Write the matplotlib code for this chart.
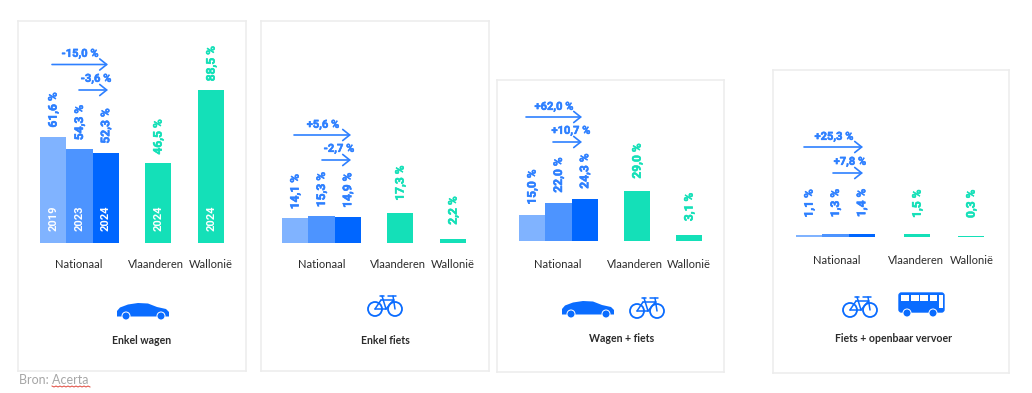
import numpy as np
import matplotlib
matplotlib.use("Agg")
import matplotlib.pyplot as plt
import matplotlib.patheffects as pe
from matplotlib.patches import Polygon, Circle, FancyBboxPatch, Rectangle

regions = ["Nationaal", "Vlaanderen", "Wallonië"]
years = ["2019", "2023", "2024", "2024", "2024"]

wagen = [61.6, 54.3, 52.3, 46.5, 88.5]
fiets = [14.1, 15.3, 14.9, 17.3, 2.2]
wagen_fiets = [15.0, 22.0, 24.3, 29.0, 3.1]
fiets_ov = [1.1, 1.3, 1.4, 1.5, 0.3]

wagen_labels = ["61,6 %", "54,3 %", "52,3 %", "46,5 %", "88,5 %"]
fiets_labels = ["14,1 %", "15,3 %", "14,9 %", "17,3 %", "2,2 %"]
wagen_fiets_labels = ["15,0 %", "22,0 %", "24,3 %", "29,0 %", "3,1 %"]
fiets_ov_labels = ["1,1 %", "1,3 %", "1,4 %", "1,5 %", "0,3 %"]

wagen_change = ["-15,0 %", "-3,6 %"]
fiets_change = ["+5,6 %", "-2,7 %"]
wagen_fiets_change = ["+62,0 %", "+10,7 %"]
fiets_ov_change = ["+25,3 %", "+7,8 %"]

titles = ["Enkel wagen", "Enkel fiets", "Wagen + fiets", "Fiets + openbaar vervoer"]

BLUES = ["#80B3FF", "#4D94FF", "#0066FF"]
TEAL = "#14E0B8"
ARROW = "#2E80FF"
ICON = "#0A6CFF"
TEXT = "#2B2B2B"
CARD = "#EDEDED"
COND = ["Roboto", "DejaVu Sans"]
LABEL = ["Lato", "DejaVu Sans"]

W, H = 1032, 393
PX_PER_UNIT = 1.72
BAR_W = 26.3

fig = plt.figure(figsize=(W / 100, H / 100), dpi=100, facecolor="white")


def box(l, t, r, b):
    return [l / W, 1 - b / H, (r - l) / W, (b - t) / H]


def panel(card, first_bar, gap_bar, base, values, labels, gaps):
    # card and positions are in pixels, bars are in data units
    l, t, r, b = card
    ax = fig.add_axes(box(l, t, r, b))
    ax.set_xlim((l - first_bar) / BAR_W - 0.5, (r - first_bar) / BAR_W - 0.5)
    ax.set_ylim(-(b - base) / PX_PER_UNIT, (base - t) / PX_PER_UNIT)
    ax.set_xticks([])
    ax.set_yticks([])
    for s in ax.spines.values():
        s.set_color(CARD)
        s.set_linewidth(1.2)
    x = np.array([0, 1, 2, 4, 6]) * 1.0
    x[3] = (gap_bar[0] - first_bar) / BAR_W
    x[4] = (gap_bar[1] - first_bar) / BAR_W
    cols = BLUES + [TEAL, TEAL]
    ax.bar(x, values, width=1.0, color=cols, linewidth=0)
    for i in range(5):
        c = ARROW if i < 3 else TEAL
        t_ = ax.annotate(labels[i], (x[i], values[i]), xytext=(0, gaps[i] * 0.72),
                         textcoords="offset points", rotation=90, ha="center", va="bottom",
                         color=c, fontsize=8.6, fontweight="bold", family=COND)
        t_.set_path_effects([pe.withStroke(linewidth=0.4, foreground=c)])
    return ax, x


ax1, x1 = panel((17.5, 21, 246, 371), 40, (145, 198), 242.5, wagen, wagen_labels, [9, 9, 9, 8, 9])
ax2, x2 = panel((261, 21, 489, 371), 282, (387, 440), 242.5, fiets, fiets_labels, [9, 9, 9, 12, 14])
ax3, x3 = panel((497, 80, 724, 372), 519, (624, 676), 240.5, wagen_fiets, wagen_fiets_labels, [10, 10, 10, 12, 14])
ax4, x4 = panel((773, 70, 1009, 373), 796, (904, 958), 236.5, fiets_ov, fiets_ov_labels, [17, 17, 17, 16, 18])

# year labels only in the first panel
for i in range(5):
    ax1.text(x1[i], 14, years[i], rotation=90, ha="center", va="center", color="white",
             fontsize=8, fontweight="bold", family=COND)

# overlay in pixels for the arrows, texts and icons
ov = fig.add_axes([0, 0, 1, 1], zorder=5)
ov.set_xlim(0, W)
ov.set_ylim(H, 0)
ov.axis("off")
ov.patch.set_alpha(0)


def arrow(x0, x1, y):
    ov.annotate("", xy=(x1, y), xytext=(x0, y),
                arrowprops=dict(arrowstyle="->,head_length=0.5,head_width=0.4", color=ARROW,
                                lw=1.2, shrinkA=0, shrinkB=0))


def change(txt, cx, cy, x0, x1, y):
    t_ = ov.text(cx, cy, txt, ha="center", va="center", color=ARROW, fontsize=8,
                 fontweight="bold", family=COND)
    t_.set_path_effects([pe.withStroke(linewidth=0.4, foreground=ARROW)])
    arrow(x0, x1, y)


change(wagen_change[0], 80, 54, 52, 108, 64.5)
change(wagen_change[1], 96, 79, 79, 108, 90)
change(fiets_change[0], 323, 125, 294, 351, 135)
change(fiets_change[1], 339, 149, 322, 351, 160)
change(wagen_fiets_change[0], 554, 107, 526, 582, 117)
change(wagen_fiets_change[1], 571, 131, 553, 582, 142)
change(fiets_ov_change[0], 834, 137, 804, 863, 147)
change(fiets_ov_change[1], 850, 162, 833, 863, 173)

region_x = [(79, 156, 211), (322, 398, 453), (558, 635, 689), (837, 916, 972)]
region_y = [265, 265, 264, 261]
title_x = [142, 385, 622, 894]
title_y = [341, 341, 339, 339]
for k in range(4):
    for j in range(3):
        ov.text(region_x[k][j], region_y[k], regions[j], ha="center", va="center",
                color=TEXT, fontsize=8, family=LABEL)
    ov.text(title_x[k], title_y[k], titles[k], ha="center", va="center",
            color=TEXT, fontsize=7.6, fontweight="bold", family=LABEL)


def wheel(cx, cy, r=3.5):
    ov.add_patch(Circle((cx, cy), r + 1.0, fc="white", ec="none"))
    ov.add_patch(Circle((cx, cy), r, fc=ICON, ec="none"))


def car(x, y):
    pts = [(0, 8), (3, 4.5), (11, 1.5), (21, 0), (31, 0.5), (40, 4), (49, 6), (52, 9), (52, 13.5), (0, 13.5)]
    ov.add_patch(Polygon([(x + a, y + b) for a, b in pts], closed=True, fc=ICON, ec="none"))
    wheel(x + 9, y + 13)
    wheel(x + 44, y + 13)


def bike(x, y):
    for cx in (8, 28):
        ov.add_patch(Circle((x + cx, y + 14), 7, fc="none", ec=ICON, lw=1.3))
    segs = [((13, 1), (17, 1)), ((21, 1), (29, 1)), ((15, 1), (19, 14)), ((26, 1), (28, 14)),
            ((14, 5), (26.5, 5)), ((26.5, 5), (19, 14)), ((8, 14), (19, 14)), ((8, 14), (14, 5))]
    for p, q in segs:
        ov.plot([x + p[0], x + q[0]], [y + p[1], y + q[1]], color=ICON, lw=1.1,
                solid_capstyle="round")


def bus(x, y):
    ov.add_patch(FancyBboxPatch((x + 1, y + 1), 45, 19, boxstyle="round,pad=0,rounding_size=2.5",
                                fc=ICON, ec=ICON, lw=1))
    for a, b in [(3, 11), (13, 21), (22, 30), (32, 39)]:
        ov.add_patch(Rectangle((x + a, y + 3), b - a, 6, fc="white", ec="none"))
    ov.add_patch(Rectangle((x + 41, y + 3), 4, 13, fc="white", ec="none"))
    wheel(x + 9, y + 21)
    wheel(x + 35, y + 21)


car(117, 303)
bike(367, 295)
car(562, 301)
bike(629, 297)
bike(842, 296)
bus(898, 292)

ov.text(19, 380, "Bron: Acerta", ha="left", va="center", color="#A6A6A6", fontsize=9, family=LABEL)
zig_x = np.arange(52, 92, 2)
zig_y = 386 + (np.arange(len(zig_x)) % 2)
ov.plot(zig_x, zig_y, color="#E0483C", lw=0.7)

fig.savefig("out.png", dpi=100, facecolor="white")
